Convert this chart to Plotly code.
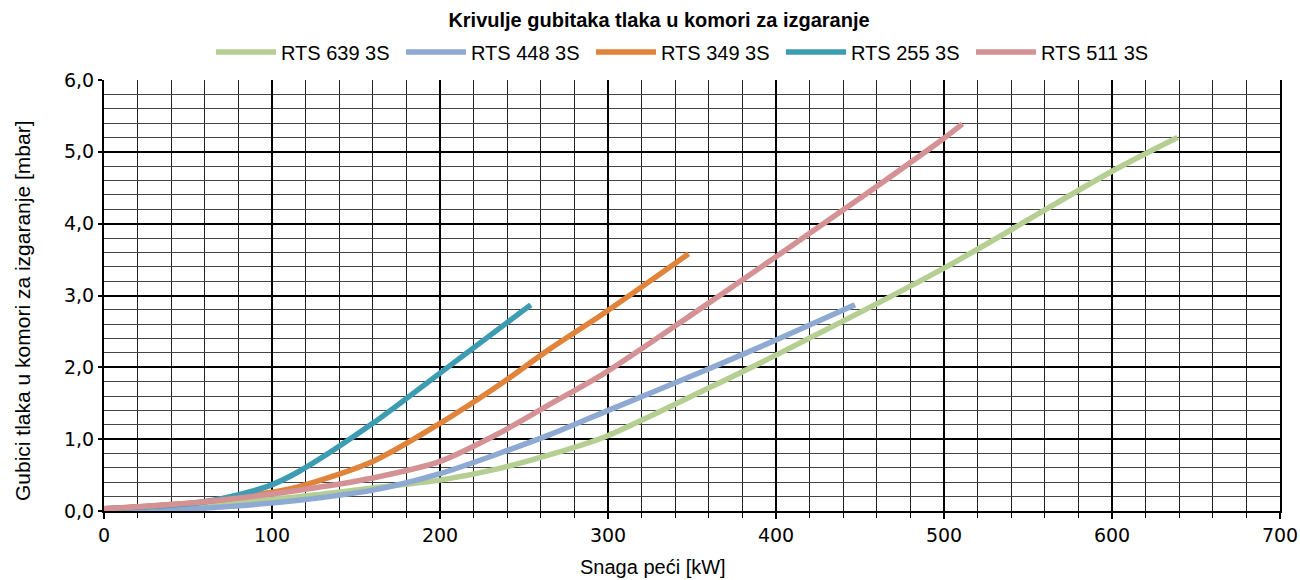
import plotly.graph_objects as go

# ---- data ----
series_names = ["RTS 639 3S", "RTS 448 3S", "RTS 349 3S", "RTS 255 3S", "RTS 511 3S"]
series_colors = ["#b5cf93", "#8eaad3", "#e0843c", "#3d9bb2", "#d59294"]

x_639 = [0, 59, 116, 160, 200, 235, 265, 298, 358, 400, 500, 600, 639]
y_639 = [0.03, 0.10, 0.20, 0.32, 0.43, 0.59, 0.78, 1.03, 1.69, 2.17, 3.38, 4.73, 5.20]

x_448 = [0, 59, 116, 160, 200, 235, 265, 298, 358, 400, 447]
y_448 = [0.00, 0.04, 0.15, 0.29, 0.52, 0.80, 1.06, 1.38, 1.96, 2.38, 2.87]

x_349 = [0, 60, 97, 116, 160, 200, 235, 265, 298, 348]
y_349 = [0.03, 0.13, 0.25, 0.34, 0.69, 1.22, 1.75, 2.25, 2.76, 3.58]

x_255 = [0, 60, 97, 116, 160, 200, 254]
y_255 = [0.03, 0.13, 0.34, 0.55, 1.22, 1.92, 2.87]

x_511 = [0, 60, 116, 160, 200, 235, 265, 298, 354, 400, 457, 500, 511]
y_511 = [0.03, 0.13, 0.29, 0.46, 0.69, 1.08, 1.48, 1.92, 2.80, 3.54, 4.47, 5.19, 5.39]

xs = [x_639, x_448, x_349, x_255, x_511]
ys = [y_639, y_448, y_349, y_255, y_511]

title_text = "Krivulje gubitaka tlaka u komori za izgaranje"
x_title = "Snaga peći [kW]"
y_title = "Gubici tlaka u komori za izgaranje [mbar]"

narrow = "Liberation Sans, Arial, sans-serif"
tickfont = "DejaVu Sans, Verdana, sans-serif"

W, H = 1300, 580
L, R, T, B = 104, 20, 80, 69
pw, ph = W - L - R, H - T - B

fig = go.Figure()
for name, col, x, y in zip(series_names, series_colors, xs, ys):
    fig.add_trace(go.Scatter(
        x=x, y=y, name=name, mode="lines",
        line=dict(color=col, width=5.5, shape="spline", smoothing=0.8),
    ))

fig.update_layout(
    width=W, height=H,
    margin=dict(l=L, r=R, t=T, b=B, autoexpand=False),
    paper_bgcolor="white", plot_bgcolor="white",
    separators=", ",
    title=dict(text="<b>" + title_text + "</b>", x=659 / W, xanchor="center",
               xref="container", y=1 - 20 / H, yanchor="middle", yref="container",
               font=dict(family=narrow, size=20, color="black")),
    legend=dict(orientation="h", x=(211 - L) / pw, xanchor="left",
                y=1 + (T - 52) / ph, yanchor="middle",
                font=dict(family=narrow, size=20, color="black"),
                itemwidth=60, entrywidth=115, entrywidthmode="pixels",
                tracegroupgap=0, bgcolor="rgba(0,0,0,0)"),
    showlegend=True,
    annotations=[
        dict(text=x_title, xref="paper", yref="paper", x=(653 - L) / pw,
             y=-(567 - (T + ph)) / ph,
             xanchor="center", yanchor="middle", showarrow=False,
             font=dict(family=narrow, size=20, color="black")),
        dict(text=y_title, xref="paper", yref="paper", x=(22 - L) / pw,
             y=(T + ph - 311) / ph,
             xanchor="center", yanchor="middle", showarrow=False, textangle=-90,
             font=dict(family=narrow, size=21, color="black")),
    ],
)

fig.update_xaxes(
    range=[0, 700], dtick=100, tick0=0,
    showgrid=True, gridcolor="black", gridwidth=2,
    showline=True, linecolor="black", linewidth=2, mirror=False,
    ticks="outside", ticklen=6, tickwidth=2, tickcolor="black",
    tickfont=dict(family=tickfont, size=19, color="black"),
    ticklabeloverflow="allow",
    minor=dict(dtick=20, showgrid=True, gridcolor="#222", gridwidth=1,
               ticks="outside", ticklen=5, tickcolor="black", tickwidth=1),
    zeroline=False, automargin=False,
)
fig.update_yaxes(
    range=[0, 6], dtick=1, tick0=0, tickformat=".1f",
    showgrid=True, gridcolor="black", gridwidth=2,
    showline=True, linecolor="black", linewidth=2, mirror=True,
    ticks="outside", ticklen=4, tickwidth=2, tickcolor="black",
    tickfont=dict(family=tickfont, size=19, color="black"),
    ticklabeloverflow="allow",
    minor=dict(dtick=0.2, showgrid=True, gridcolor="#444", gridwidth=1),
    zeroline=False, automargin=False,
)

fig.write_html("out.html",
               config={"displayModeBar": False},
               post_script="document.body.style.margin='0';document.body.style.overflow='hidden';")
